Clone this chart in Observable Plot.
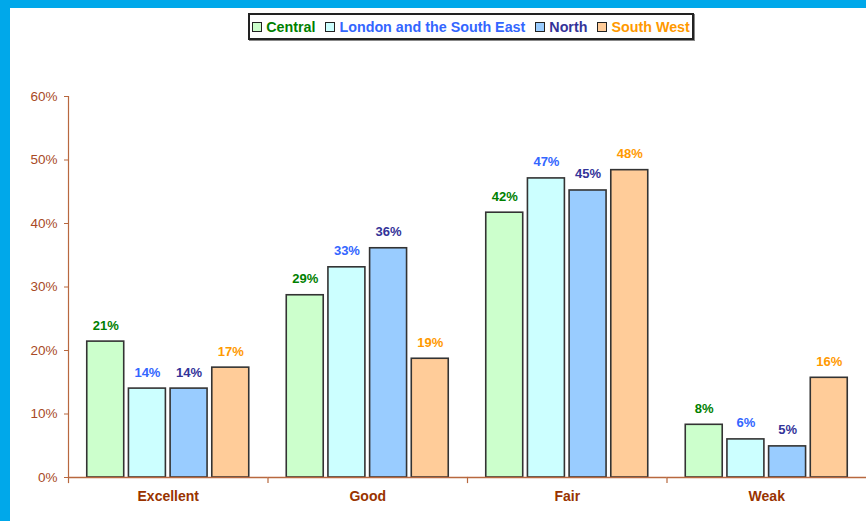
<!DOCTYPE html>
<html>
<head>
<meta charset="utf-8">
<script src="https://cdn.jsdelivr.net/npm/d3@7"></script>
<script src="https://cdn.jsdelivr.net/npm/@observablehq/plot@0.6"></script>
<style>
  html, body { margin: 0; padding: 0; }
  body { width: 866px; height: 521px; background: #00a8ea; position: relative; overflow: hidden; font-family: "Liberation Sans", Arial, sans-serif; }
  #panel { position: absolute; left: 10px; top: 8px; width: 856px; height: 513px; background: #ffffff; }
  #legend { position: absolute; left: 248px; top: 13px; width: 442px; height: 23px; border: 2px solid #222; background: #fff;
            box-shadow: 1px 1px 0 #888; display: flex; align-items: center; justify-content: center; gap: 0; font-weight: bold; font-size: 14.3px; }
  .item { display: flex; align-items: center; margin: 0 5px; white-space: nowrap; }
  .sw { width: 8px; height: 8px; border: 1px solid #222; margin-right: 4px; }
  #chart { position: absolute; left: 0; top: 50px; }
</style>
</head>
<body>
<div id="panel"></div>
<div id="legend"></div>
<div id="chart"></div>
<script>
const categories = ["Excellent", "Good", "Fair", "Weak"];
const series = ["Central", "London and the South East", "North", "South West"];
const central   = [21.4, 28.7, 41.7, 8.3];
const london    = [14.0, 33.1, 47.1, 6.0];
const north     = [14.0, 36.1, 45.2, 4.9];
const southWest = [17.3, 18.7, 48.4, 15.7];
const yTicks = [0, 10, 20, 30, 40, 50, 60];

const fills = ["#ccffcc", "#ccffff", "#99ccff", "#ffcc99"];
const labelColors = ["#008000", "#3366ff", "#333399", "#ff9900"];

const seriesValues = [central, london, north, southWest];
const data = [];
categories.forEach((c, ci) => series.forEach((s, si) => data.push({category: c, series: s, value: seriesValues[si][ci]})));

// legend
const legend = document.getElementById("legend");
series.forEach((s, i) => {
  const it = document.createElement("div");
  it.className = "item";
  const sw = document.createElement("div");
  sw.className = "sw";
  sw.style.background = fills[i];
  const tx = document.createElement("span");
  tx.textContent = s;
  tx.style.color = labelColors[i];
  it.appendChild(sw); it.appendChild(tx);
  legend.appendChild(it);
});

const axisStroke = "#b8683f";
const chart = Plot.plot({
  width: 866,
  height: 471,
  marginLeft: 68,
  marginRight: 0,
  marginTop: 46,
  marginBottom: 44,
  style: {background: "transparent", fontFamily: "'Liberation Sans', Arial, sans-serif", overflow: "visible"},
  fx: {domain: categories, padding: 0, label: null, axis: null, round: false},
  x: {domain: series, paddingInner: 0.113, paddingOuter: 0.45, axis: null, round: false},
  y: {domain: [0, 60], axis: null},
  color: {domain: series, range: fills},
  marks: [
    Plot.axisY({ticks: yTicks, tickSize: 4, tickPadding: 7, tickFormat: d => d + "%", stroke: axisStroke, fill: "#a84a25", fontSize: 13.5, label: null}),
    Plot.frame({anchor: "left", stroke: axisStroke, strokeWidth: 1.2, facetAnchor: "left"}),
    Plot.frame({anchor: "left", stroke: axisStroke, strokeWidth: 1.2, insetTop: 381, insetBottom: -5}),
    Plot.barY(data, {fx: "category", x: "series", y: "value", fill: "series", stroke: "#333", strokeWidth: 1.6}),
    Plot.ruleY([0], {stroke: axisStroke, strokeWidth: 1.5}),
    ...series.map((s, i) => Plot.text(data.filter(d => d.series === s), {
      fx: "category", x: "series", y: "value",
      text: d => Math.round(d.value) + "%",
      lineAnchor: "bottom", dy: -12, fill: labelColors[i], fontWeight: "bold", fontSize: 13
    })),
    Plot.axisFx({anchor: "bottom", tickSize: 0, tickPadding: 14, fontWeight: "bold", fontSize: 14, fill: "#993300", label: null})
  ]
});
document.getElementById("chart").appendChild(chart);
</script>
</body>
</html>
